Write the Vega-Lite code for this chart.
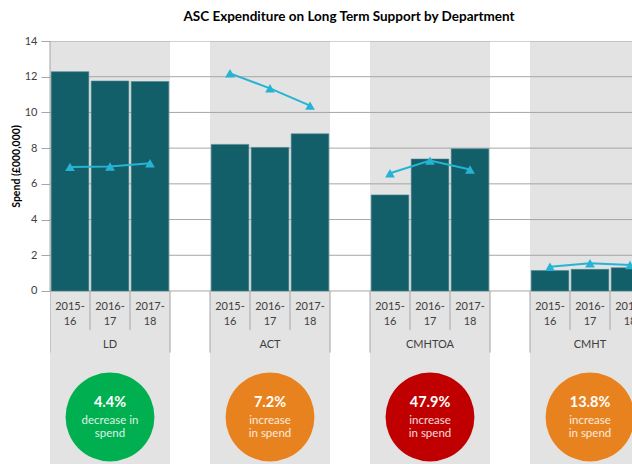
{
  "$schema": "https://vega.github.io/schema/vega-lite/v6.json",
  "width": 582,
  "height": 423,
  "autosize": {"type": "none"},
  "padding": {"left": 50, "top": 41, "right": 0, "bottom": 0},
  "background": "white",
  "config": {"view": {"stroke": null}, "font": "Lato"},
  "title": {"text": "ASC Expenditure on Long Term Support by Department", "anchor": "middle", "frame": "group", "dx": 8, "offset": 19, "dy": 18.5, "baseline": "alphabetic", "fontSize": 13.5, "fontWeight": "bold", "font": "Lato", "color": "#000000"},
  "datasets": {
    "spend": [
      {"dept": "LD", "year": "2015-16", "spend": 12.28, "trend": 6.95},
      {"dept": "LD", "year": "2016-17", "spend": 11.76, "trend": 6.97},
      {"dept": "LD", "year": "2017-18", "spend": 11.73, "trend": 7.15},
      {"dept": "ACT", "year": "2015-16", "spend": 8.21, "trend": 12.19},
      {"dept": "ACT", "year": "2016-17", "spend": 8.04, "trend": 11.35},
      {"dept": "ACT", "year": "2017-18", "spend": 8.8, "trend": 10.38},
      {"dept": "CMHTOA", "year": "2015-16", "spend": 5.38, "trend": 6.59},
      {"dept": "CMHTOA", "year": "2016-17", "spend": 7.39, "trend": 7.3},
      {"dept": "CMHTOA", "year": "2017-18", "spend": 7.96, "trend": 6.8},
      {"dept": "CMHT", "year": "2015-16", "spend": 1.14, "trend": 1.36},
      {"dept": "CMHT", "year": "2016-17", "spend": 1.21, "trend": 1.55},
      {"dept": "CMHT", "year": "2017-18", "spend": 1.3, "trend": 1.46}
    ],
    "summary": [
      {"dept": "LD", "change": -4.4, "pct": "4.4%", "note": "decrease in\nspend"},
      {"dept": "ACT", "change": 7.2, "pct": "7.2%", "note": "increase\nin spend"},
      {"dept": "CMHTOA", "change": 47.9, "pct": "47.9%", "note": "increase\nin spend"},
      {"dept": "CMHT", "change": 13.8, "pct": "13.8%", "note": "increase\nin spend"}
    ],
    "grid": [{"tick": 0}, {"tick": 2}, {"tick": 4}, {"tick": 6}, {"tick": 8}, {"tick": 10}, {"tick": 12}, {"tick": 14}]
  },
  "layer": [
    {
      "data": {"name": "summary"},
      "mark": {"type": "rect", "color": "#E3E3E3", "clip": true},
      "encoding": {
        "x": {"field": "dept", "type": "nominal", "sort": null, "axis": null, "scale": {"domain": ["LD", "ACT", "CMHTOA", "CMHT"], "range": [0, 600], "paddingInner": 0.25, "paddingOuter": 0}},
        "y": {"datum": 14, "type": "quantitative", "scale": {"domain": [-9.69, 14], "nice": false, "zero": false}},
        "y2": {"datum": -9.69}
      }
    },
    {
      "data": {"name": "grid"},
      "mark": {"type": "rule", "color": "#A6A6A6", "strokeWidth": 1, "clip": true},
      "encoding": {
        "y": {"field": "tick", "type": "quantitative", "title": "Spend (£000,000)"}
      }
    },
    {
      "data": {"name": "spend"},
      "mark": {"type": "bar", "color": "#125E69", "stroke": "#4A8790", "strokeWidth": 0.6, "clip": true},
      "encoding": {
        "x": {"field": "dept", "type": "nominal", "sort": null, "axis": null},
        "xOffset": {"field": "year", "type": "nominal", "scale": {"paddingInner": 0.06, "paddingOuter": 0.03}},
        "y": {"field": "spend", "type": "quantitative", "title": "Spend (£000,000)", "axis": {"title": "Spend (£000,000)", "values": [0, 2, 4, 6, 8, 10, 12, 14], "grid": false, "domain": false, "ticks": true, "tickSize": 9, "tickColor": "#A6A6A6", "labelPadding": 4, "labelFont": "Lato", "labelFontSize": 11, "labelColor": "#404040", "titleFont": "Lato", "titleFontSize": 10.5, "titleFontWeight": "bold", "titleColor": "#000000", "titleX": -34, "titleY": 125, "titleAlign": "center", "titleBaseline": "middle", "titleAngle": 270}},
        "y2": {"datum": 0}
      }
    },
    {
      "data": {"name": "spend"},
      "mark": {"type": "line", "color": "#27B4D4", "strokeWidth": 2, "clip": true},
      "encoding": {
        "x": {"field": "dept", "type": "nominal", "sort": null, "axis": null},
        "xOffset": {"field": "year", "type": "nominal"},
        "y": {"field": "trend", "type": "quantitative", "title": "Spend (£000,000)"},
        "detail": {"field": "dept"},
        "order": {"field": "year", "type": "ordinal"}
      }
    },
    {
      "data": {"name": "spend"},
      "mark": {"type": "point", "shape": "triangle-up", "filled": true, "size": 95, "color": "#27B4D4", "opacity": 1, "clip": true},
      "encoding": {
        "x": {"field": "dept", "type": "nominal", "sort": null, "axis": null},
        "xOffset": {"field": "year", "type": "nominal"},
        "y": {"field": "trend", "type": "quantitative", "title": "Spend (£000,000)"}
      }
    },
    {
      "data": {"name": "summary"},
      "mark": {"type": "rule", "color": "#A6A6A6", "clip": true},
      "encoding": {
        "x": {"field": "dept", "type": "nominal", "sort": null, "axis": null, "bandPosition": 0},
        "y": {"datum": 0, "type": "quantitative"},
        "y2": {"datum": -3.45}
      }
    },
    {
      "data": {"name": "summary"},
      "mark": {"type": "rule", "color": "#A6A6A6", "clip": true},
      "encoding": {
        "x": {"field": "dept", "type": "nominal", "sort": null, "axis": null, "bandPosition": 1},
        "y": {"datum": 0, "type": "quantitative"},
        "y2": {"datum": -3.45}
      }
    },
    {
      "data": {"name": "summary"},
      "mark": {"type": "rule", "color": "#A6A6A6", "clip": true},
      "encoding": {
        "x": {"field": "dept", "type": "nominal", "sort": null, "axis": null, "bandPosition": 0.33333},
        "y": {"datum": 0, "type": "quantitative"},
        "y2": {"datum": -2.18}
      }
    },
    {
      "data": {"name": "summary"},
      "mark": {"type": "rule", "color": "#A6A6A6", "clip": true},
      "encoding": {
        "x": {"field": "dept", "type": "nominal", "sort": null, "axis": null, "bandPosition": 0.66667},
        "y": {"datum": 0, "type": "quantitative"},
        "y2": {"datum": -2.18}
      }
    },
    {
      "data": {"name": "summary"},
      "transform": [{"filter": "datum.dept == 'LD'"}],
      "mark": {"type": "rule", "color": "#A6A6A6"},
      "encoding": {
        "x": {"field": "dept", "type": "nominal", "sort": null, "axis": null, "bandPosition": 0},
        "y": {"datum": 0, "type": "quantitative"},
        "y2": {"datum": 14}
      }
    },
    {
      "data": {"name": "spend"},
      "transform": [{"calculate": "replace(datum.year, '-', '-\\n')", "as": "label"}],
      "mark": {"type": "text", "font": "Lato", "fontSize": 11, "color": "#404040", "lineBreak": "\n", "lineHeight": 15, "baseline": "middle", "align": "center", "clip": true},
      "encoding": {
        "x": {"field": "dept", "type": "nominal", "sort": null, "axis": null},
        "xOffset": {"field": "year", "type": "nominal"},
        "y": {"datum": -0.88, "type": "quantitative"},
        "text": {"field": "label"}
      }
    },
    {
      "data": {"name": "summary"},
      "mark": {"type": "text", "font": "Lato", "fontSize": 11, "color": "#404040", "baseline": "middle", "align": "center", "clip": true},
      "encoding": {
        "x": {"field": "dept", "type": "nominal", "sort": null, "axis": null},
        "y": {"datum": -3.02, "type": "quantitative"},
        "text": {"field": "dept"}
      }
    },
    {
      "data": {"name": "summary"},
      "mark": {"type": "point", "shape": "circle", "filled": true, "size": 7900, "opacity": 1, "clip": true},
      "encoding": {
        "x": {"field": "dept", "type": "nominal", "sort": null, "axis": null},
        "y": {"datum": -7.056, "type": "quantitative"},
        "color": {"field": "change", "type": "quantitative", "legend": null, "scale": {"type": "threshold", "domain": [0, 20], "range": ["#00B050", "#E8821E", "#C00000"]}}
      }
    },
    {
      "data": {"name": "summary"},
      "mark": {"type": "text", "font": "Lato", "fontSize": 14.5, "fontWeight": "bold", "color": "#FFFFFF", "baseline": "middle", "align": "center", "clip": true},
      "encoding": {
        "x": {"field": "dept", "type": "nominal", "sort": null, "axis": null},
        "y": {"datum": -6.27, "type": "quantitative"},
        "text": {"field": "pct"}
      }
    },
    {
      "data": {"name": "summary"},
      "mark": {"type": "text", "font": "Lato", "fontSize": 11.5, "color": "#FFFFFF", "opacity": 0.85, "lineBreak": "\n", "lineHeight": 13, "baseline": "middle", "align": "center", "clip": true},
      "encoding": {
        "x": {"field": "dept", "type": "nominal", "sort": null, "axis": null},
        "y": {"datum": -7.28, "type": "quantitative"},
        "text": {"field": "note"}
      }
    }
  ]
}
